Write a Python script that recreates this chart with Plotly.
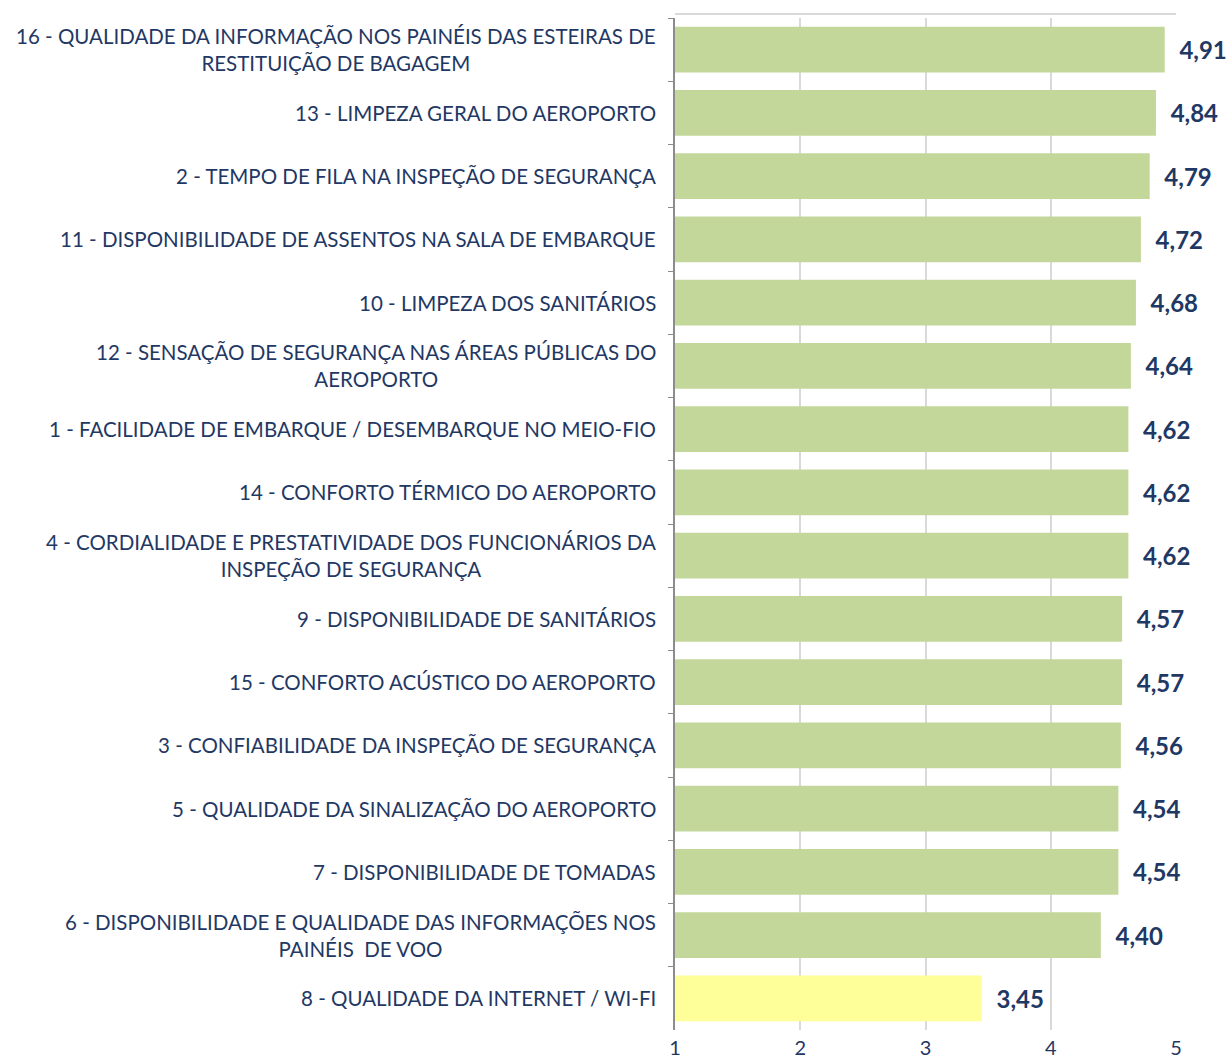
import plotly.graph_objects as go

categories = [
    "16 - QUALIDADE DA INFORMAÇÃO NOS PAINÉIS DAS ESTEIRAS DE<br>RESTITUIÇÃO DE BAGAGEM",
    "13 - LIMPEZA GERAL DO AEROPORTO",
    "2 - TEMPO DE FILA NA INSPEÇÃO DE SEGURANÇA",
    "11 - DISPONIBILIDADE DE ASSENTOS NA SALA DE EMBARQUE",
    "10 - LIMPEZA DOS SANITÁRIOS",
    "12 - SENSAÇÃO DE SEGURANÇA NAS ÁREAS PÚBLICAS DO<br>AEROPORTO",
    "1 - FACILIDADE DE EMBARQUE / DESEMBARQUE NO MEIO-FIO",
    "14 - CONFORTO TÉRMICO DO AEROPORTO",
    "4 - CORDIALIDADE E PRESTATIVIDADE DOS FUNCIONÁRIOS DA<br>INSPEÇÃO DE SEGURANÇA",
    "9 - DISPONIBILIDADE DE SANITÁRIOS",
    "15 - CONFORTO ACÚSTICO DO AEROPORTO",
    "3 - CONFIABILIDADE DA INSPEÇÃO DE SEGURANÇA",
    "5 - QUALIDADE DA SINALIZAÇÃO DO AEROPORTO",
    "7 - DISPONIBILIDADE DE TOMADAS",
    "6 - DISPONIBILIDADE E QUALIDADE DAS INFORMAÇÕES NOS<br>PAINÉIS  DE VOO",
    "8 - QUALIDADE DA INTERNET / WI-FI",
]
values = [4.91, 4.84, 4.79, 4.72, 4.68, 4.64, 4.62, 4.62, 4.62, 4.57, 4.57, 4.56, 4.54, 4.54, 4.40, 3.45]
x_ticks = [1, 2, 3, 4, 5]

ids = [str(i) for i in range(len(categories))]
colors = ["#c4d79b"] * (len(values) - 1) + ["#ffff99"]
navy = "#1f3864"
font_family = "Lato, sans-serif"

fig = go.Figure(go.Bar(
    y=ids, x=values, orientation="h",
    marker=dict(color=colors, line=dict(width=0)),
    texttemplate="  %{x:.2f}", textposition="outside",
    textfont=dict(color=navy, size=24, family="Lato, sans-serif", weight="bold"),
    cliponaxis=False,
))

annotations = []
for i, c in zip(ids, categories):
    annotations.append(dict(
        x=0, xref="paper", y=i, yref="y", xanchor="right", yanchor="middle",
        xshift=-17, text=c, showarrow=False, align="center",
        font=dict(size=20.5, color=navy, family=font_family),
    ))

fig.update_layout(
    width=1231, height=1064,
    margin=dict(l=675, r=55, t=18, b=34),
    plot_bgcolor="white", paper_bgcolor="white",
    separators=",.",
    bargap=0.28,
    showlegend=False,
    annotations=annotations,
    shapes=[dict(type="line", xref="x", yref="paper", x0=1, x1=5, y0=1.004, y1=1.004,
                 line=dict(color="#d9d9d9", width=2))],
    xaxis=dict(range=[1, 5], tickvals=x_ticks, showgrid=True, gridcolor="#d9d9d9", gridwidth=2,
               zeroline=False, showline=False, ticks="", ticklabelstandoff=4, automargin=False,
               tickfont=dict(size=20, color=navy, family=font_family)),
    yaxis=dict(autorange="reversed", showticklabels=False, showgrid=False, showline=True,
               linecolor="#8c8c8c", linewidth=2, ticks="outside", tickson="boundaries",
               ticklen=5, tickcolor="#8c8c8c", tickwidth=1, automargin=False),
)

fig.write_html("out.html")
